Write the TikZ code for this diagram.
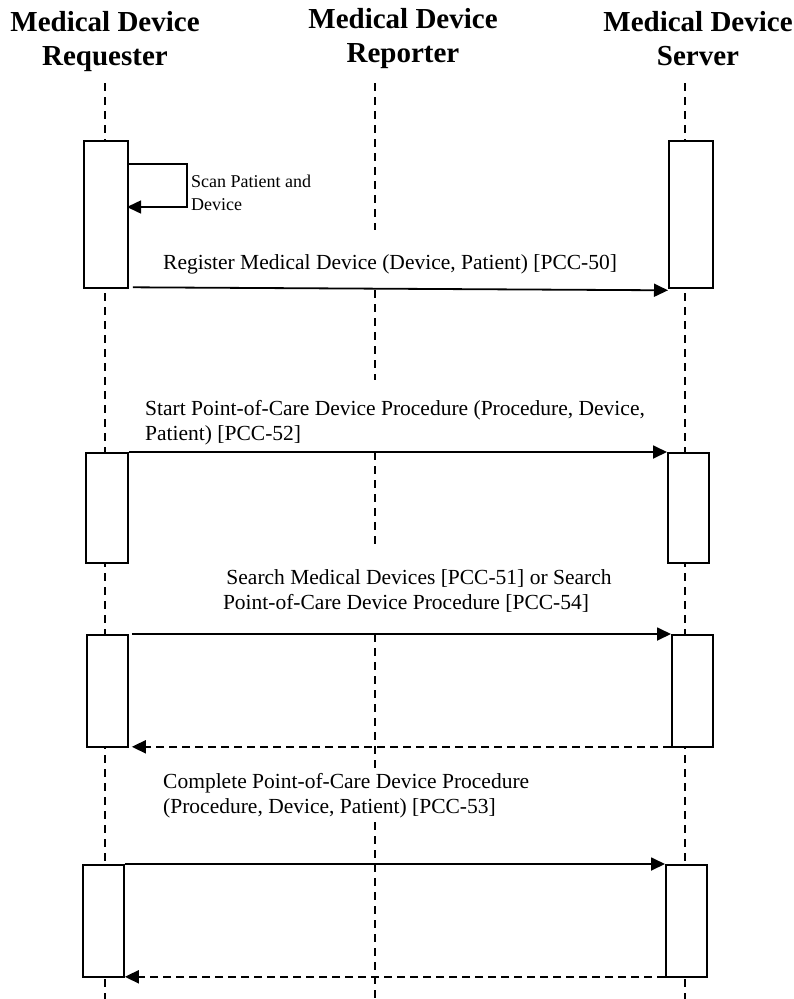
\documentclass[tikz,border=0pt]{standalone}
\usepackage{fontspec}
\setmainfont{Liberation Serif}
\usetikzlibrary{arrows.meta}

\begin{document}
\begin{tikzpicture}[x=1pt,y=-1pt,
  lifeline/.style={line width=1.6pt, dash pattern=on 8pt off 6pt},
  actbox/.style={draw, line width=1.8pt, fill=white, inner sep=0, anchor=north west},
  msg/.style={line width=1.8pt, -{Triangle[length=14pt,width=13pt]}},
  reply/.style={msg, dash pattern=on 8pt off 5pt},
  head/.style={font=\fontsize{29}{36}\selectfont\bfseries, inner sep=0, anchor=base},
  lbl/.style={font=\fontsize{21.5}{25}\selectfont, inner sep=0},
  small/.style={font=\fontsize{18}{23}\selectfont, inner sep=0, anchor=base west}]

\useasboundingbox (0,0) rectangle (794,999);

% participant headings
\node[head] (reqA) at (105,31) {Medical Device};
\node[head] (reqB) at (105,65) {Requester};
\node[head] (repA) at (403,28) {Medical Device};
\node[head] (repB) at (403,62) {Reporter};
\node[head] (srvA) at (698,31) {Medical Device};
\node[head] (srvB) at (698,65) {Server};

% lifelines
\coordinate (reqtop) at (105,83);  \coordinate (reqend) at (105,999);
\coordinate (srvtop) at (685,83);  \coordinate (srvend) at (685,999);
\draw[lifeline] (reqtop) -- (reqend);
\draw[lifeline] (srvtop) -- (srvend);
\coordinate (r0) at (375,83);  \coordinate (r1) at (375,230);
\coordinate (r2) at (375,290); \coordinate (r3) at (375,380);
\coordinate (r4) at (375,452); \coordinate (r5) at (375,545);
\coordinate (r6) at (375,634); \coordinate (r7) at (375,770);
\coordinate (r8) at (375,822); \coordinate (r9) at (375,999);
\draw[lifeline] (r0) -- (r1);
\draw[lifeline] (r2) -- (r3);
\draw[lifeline] (r4) -- (r5);
\draw[lifeline] (r6) -- (r7);
\draw[lifeline] (r8) -- (r9);

% activation bars
\node[actbox, minimum width=44pt, minimum height=147pt] (a1) at (83,140) {};
\node[actbox, minimum width=44pt, minimum height=147pt] (b1) at (668,140) {};
\node[actbox, minimum width=42pt, minimum height=110pt] (a2) at (85,452) {};
\node[actbox, minimum width=41pt, minimum height=110pt] (b2) at (667,452) {};
\node[actbox, minimum width=41pt, minimum height=112pt] (a3) at (86,634) {};
\node[actbox, minimum width=41pt, minimum height=112pt] (b3) at (671,634) {};
\node[actbox, minimum width=41pt, minimum height=112pt] (a4) at (82,864) {};
\node[actbox, minimum width=41pt, minimum height=112pt] (b4) at (665,864) {};

% self call: scan patient and device
\coordinate (s1) at (127,164);
\coordinate (s2) at (127,207);
\draw[msg, line width=1.5pt] (s1) -- (187,164) |- (s2);
\node[small] (scanA) at (191,187) {Scan Patient and};
\node[small] (scanB) at (191,210) {Device};

% register medical device
\node[lbl, anchor=base west] (m1) at (163,269) {Register Medical Device (Device, Patient) [PCC-50]};
\draw[msg] ([xshift=4pt,yshift=1.5pt]a1.south east) -- ([yshift=-1.5pt]b1.south west);

% start procedure
\node[lbl, anchor=base west] (m2a) at (145,415) {Start Point-of-Care Device Procedure (Procedure, Device,};
\node[lbl, anchor=base west] (m2b) at (145,440) {Patient) [PCC-52]};
\draw[msg] (a2.north east) -- (b2.north west);

% search
\node[lbl, anchor=base] (m3a) at (419,584) {Search Medical Devices [PCC-51] or Search};
\node[lbl, anchor=base] (m3b) at (406,609) {Point-of-Care Device Procedure [PCC-54]};
\draw[msg] ([xshift=3pt]a3.north east) -- (b3.north west);
\draw[reply] ([yshift=1pt]b3.south west) -- ([xshift=3pt,yshift=1pt]a3.south east);

% complete procedure
\node[lbl, anchor=base west] (m4a) at (163,788) {Complete Point-of-Care Device Procedure};
\node[lbl, anchor=base west] (m4b) at (163,813) {(Procedure, Device, Patient) [PCC-53]};
\draw[msg] (a4.north east) -- (b4.north west);
\draw[reply] ([yshift=1pt]b4.south west) -- ([yshift=1pt]a4.south east);

\end{tikzpicture}
\end{document}
